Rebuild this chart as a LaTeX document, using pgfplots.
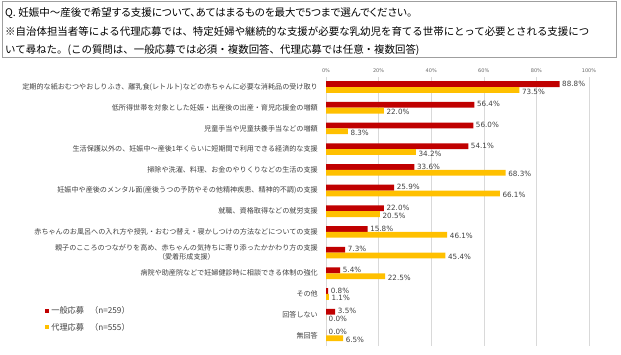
\documentclass[border=0pt]{standalone}
\usepackage{pgfplots}
\pgfplotsset{compat=1.18}
\usepackage{fontspec}
\setmainfont{Noto Sans CJK JP}[RawFeature=+palt]
\newfontfamily\jpfull{Noto Sans CJK JP}
\newfontfamily\numfont{DejaVu Sans}
\definecolor{cred}{HTML}{C00000}
\definecolor{cyel}{HTML}{FFC000}
\definecolor{txt}{HTML}{404040}
\pgfplotstableread{
y  gen   rep
13 88.8  73.5
12 56.4  22.0
11 56.0  8.3
10 54.1  34.2
9  33.6  68.3
8  25.9  66.1
7  22.0  20.5
6  15.8  46.1
5  7.3   45.4
4  5.4   22.5
3  0.8   1.1
2  3.5   0.0
1  0.0   6.5
}\datatable
\begin{document}
\begin{tikzpicture}[x=1pt,y=1pt]
\useasboundingbox (0pt,0pt) rectangle (621pt,354pt);
\draw[gray!75, line width=0.7pt] (2pt,296.3pt) rectangle (616pt,352.3pt);
\node[anchor=west, inner sep=0pt, font=\fontsize{10.5}{12}\selectfont] at (5pt,341pt) {Q. 妊娠中～産後で希望する支援について、あてはまるものを最大で5つまで選んでください。};
\node[anchor=west, inner sep=0pt, font=\jpfull\fontsize{10.45}{12}\selectfont] at (5pt,322pt) {※自治体担当者等による代理応募では、特定妊婦や継続的な支援が必要な乳幼児を育てる世帯にとって必要とされる支援につ};
\node[anchor=west, inner sep=0pt, font=\jpfull\fontsize{10.45}{12}\selectfont] at (5pt,304pt) {いて尋ねた。(この質問は、一般応募では必須・複数回答、代理応募では任意・複数回答)};
\begin{axis}[
  at={(326pt,8.3pt)}, anchor=south west,
  scale only axis, width=263pt, height=269pt,
  xmin=0, xmax=100, ymin=0.5, ymax=13.5,
  xbar, bar width=5.8pt, clip=false,
  axis line style={draw=none},
  major tick length=0pt,
  xmajorgrids, grid style={color=black!15, line width=0.5pt},
  xtick={0,20,...,100},
  xticklabel pos=upper,
  xticklabel={\pgfmathprintnumber[assume math mode=true]{\tick}\%},
  xticklabel style={font=\numfont\fontsize{5}{6}\selectfont, text=black!60, yshift=1pt},
  ytick={1,...,13},
  yticklabels={
    {無回答},{回答しない},{その他},
    {病院や助産院などで妊婦健診時に相談できる体制の強化},
    {親子のこころのつながりを高め、赤ちゃんの気持ちに寄り添ったかかわり方の支援\\（愛着形成支援）},
    {赤ちゃんのお風呂への入れ方や授乳・おむつ替え・寝かしつけの方法などについての支援},
    {就職、資格取得などの就労支援},
    {妊娠中や産後のメンタル面(産後うつの予防やその他精神疾患、精神的不調)の支援},
    {掃除や洗濯、料理、お金のやりくりなどの生活の支援},
    {生活保護以外の、妊娠中～産後1年くらいに短期間で利用できる経済的な支援},
    {児童手当や児童扶養手当などの増額},
    {低所得世帯を対象とした妊娠・出産後の出産・育児応援金の増額},
    {定期的な紙おむつやおしりふき、離乳食(レトルト)などの赤ちゃんに必要な消耗品の受け取り}},
  yticklabel style={font=\jpfull\fontsize{7.1}{9}\selectfont, text=txt, align=center, inner sep=0pt, xshift=-8pt},
  nodes near coords={\pgfmathprintnumber[fixed,fixed zerofill,precision=1,assume math mode=true]{\pgfplotspointmeta}\%},
  every node near coord/.append style={font=\numfont\fontsize{7.2}{8}\selectfont, text=txt, anchor=west, inner sep=1pt, xshift=1.5pt},
  legend style={at={(axis description cs:-1.068,0.099)}, anchor=west, draw=none, fill=none,
    font=\fontsize{8.2}{9}\selectfont, text=txt, row sep=4pt, inner sep=0pt,
    /tikz/every even column/.append style={column sep=3pt}},
  legend cell align=left,
]
\addplot[draw=none, fill=cred, bar shift=2.9pt,
  every node near coord/.append style={yshift=0.5pt},
  legend image code/.code={\fill[cred] (0pt,-2pt) rectangle (4pt,2pt);}]
  table[x=gen, y=y] {\datatable};
\addlegendentry{一般応募\hspace{6pt}{\jpfull （n=259）}}
\addplot[draw=none, fill=cyel, bar shift=-2.9pt,
  every node near coord/.append style={yshift=-1.5pt},
  legend image code/.code={\fill[cyel] (0pt,-2pt) rectangle (4pt,2pt);}]
  table[x=rep, y=y] {\datatable};
\addlegendentry{代理応募\hspace{6pt}{\jpfull （n=555）}}
\end{axis}
\end{tikzpicture}
\end{document}
